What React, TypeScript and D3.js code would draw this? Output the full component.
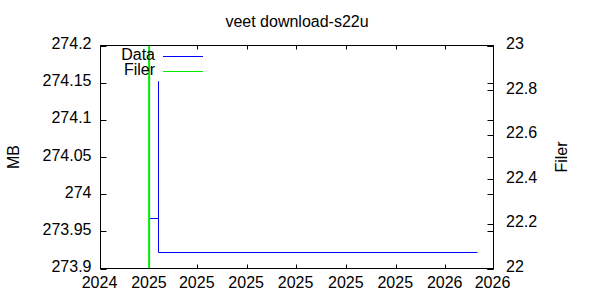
import React from "react";
import * as d3 from "d3";

const title = "veet download-s22u";
const xTickDates = ["2024-11-01", "2025-01-01", "2025-03-01", "2025-05-01", "2025-07-01", "2025-09-01", "2025-11-01", "2026-01-01", "2026-03-01"];
const yTicks = [273.9, 273.95, 274, 274.05, 274.1, 274.15, 274.2];
const y2Ticks = [22, 22.2, 22.4, 22.6, 22.8, 23];
const dataDates = ["2024-12-31T00:00", "2025-01-11T00:00", "2025-01-11T06:00", "2026-02-09T00:00"];
const dataValues = [273.9675, 274.1526, 273.9218, 273.9218];
const filerDates = ["2024-12-31T00:00", "2024-12-31T00:00"];
const filerValues = [22, 23];

const W = 600, H = 300;
const L = 100.5, R = 493.5, T = 45.5, B = 268.5;
const FONT = "'Liberation Sans', Arial, sans-serif";

export default function App() {
  const parse = (s: string) => new Date(s + (s.length === 10 ? "T00:00" : ""));
  const x = d3.scaleTime().domain([parse(xTickDates[0]), parse(xTickDates[xTickDates.length - 1])]).range([L, R]);
  const y = d3.scaleLinear().domain([273.9, 274.2]).range([B, T]);
  const y2 = d3.scaleLinear().domain([22, 23]).range([B, T]);

  const dataPts = dataDates.map((d, i) => [parse(d), dataValues[i]] as [Date, number]);
  const filerPts = filerDates.map((d, i) => [parse(d), filerValues[i]] as [Date, number]);
  const dataLine = d3.line<[Date, number]>().x(d => Math.round(x(d[0])) + 0.5).y(d => Math.round(y(d[1])) + 0.5).curve(d3.curveStepAfter)(dataPts) || "";
  const filerLine = d3.line<[Date, number]>().x(d => x(d[0])).y(d => y2(d[1]))(filerPts) || "";

  const tk = "#000";
  return (
    <svg width={W} height={H} style={{ position: "absolute", left: 0, top: 0, background: "#fff" }} fontFamily={FONT} fontSize={16}>
      <rect x={0} y={0} width={W} height={H} fill="#fff" />
      <text x={297} y={27} textAnchor="middle">{title}</text>
      {yTicks.map((v, i) => (
        <g key={"y" + i}>
          <line x1={L} x2={L + 6} y1={Math.round(y(v)) + 0.5} y2={Math.round(y(v)) + 0.5} stroke={tk} />
          <line x1={R} x2={R - 6} y1={Math.round(y(v)) + 0.5} y2={Math.round(y(v)) + 0.5} stroke={tk} />
          <text x={91.5} y={y(v) + 3.5} textAnchor="end">{String(v)}</text>
        </g>
      ))}
      {y2Ticks.map((v, i) => (
        <g key={"y2" + i}>
          <line x1={R} x2={R - 6} y1={Math.round(y2(v)) + 0.5} y2={Math.round(y2(v)) + 0.5} stroke={tk} />
          <text x={506} y={y2(v) + 3.5} textAnchor="start">{String(v)}</text>
        </g>
      ))}
      {xTickDates.map((d, i) => {
        const px = Math.round(x(parse(d)) - 0.5) + 0.5;
        return (
          <g key={"x" + i}>
            <line x1={px} x2={px} y1={B} y2={B - 4} stroke={tk} />
            <line x1={px} x2={px} y1={T} y2={T + 4} stroke={tk} />
            <text x={x(parse(d)) - 1} y={287.5} textAnchor="middle">{d3.timeFormat("%Y")(parse(d))}</text>
          </g>
        );
      })}
      <text transform="translate(19,157) rotate(-90)" textAnchor="middle">MB</text>
      <text transform="translate(567,157) rotate(-90)" textAnchor="middle">Filer</text>
      <defs>
        <clipPath id="plotclip"><rect x={L} y={T} width={R - L} height={B - T} /></clipPath>
      </defs>
      <g clipPath="url(#plotclip)">
        <path d={dataLine} fill="none" stroke="#0000ff" strokeWidth={1} />
        <path d={filerLine} fill="none" stroke="#00ee00" strokeWidth={2} />
      </g>
      <text x={155} y={60} textAnchor="end">Data</text>
      <line x1={163} x2={203} y1={56.5} y2={56.5} stroke="#0000ff" />
      <text x={155} y={75} textAnchor="end">Filer</text>
      <line x1={163} x2={203} y1={71.5} y2={71.5} stroke="#00ee00" />
      <rect x={L} y={T} width={R - L} height={B - T} fill="none" stroke="#000" strokeWidth={1} />
    </svg>
  );
}
